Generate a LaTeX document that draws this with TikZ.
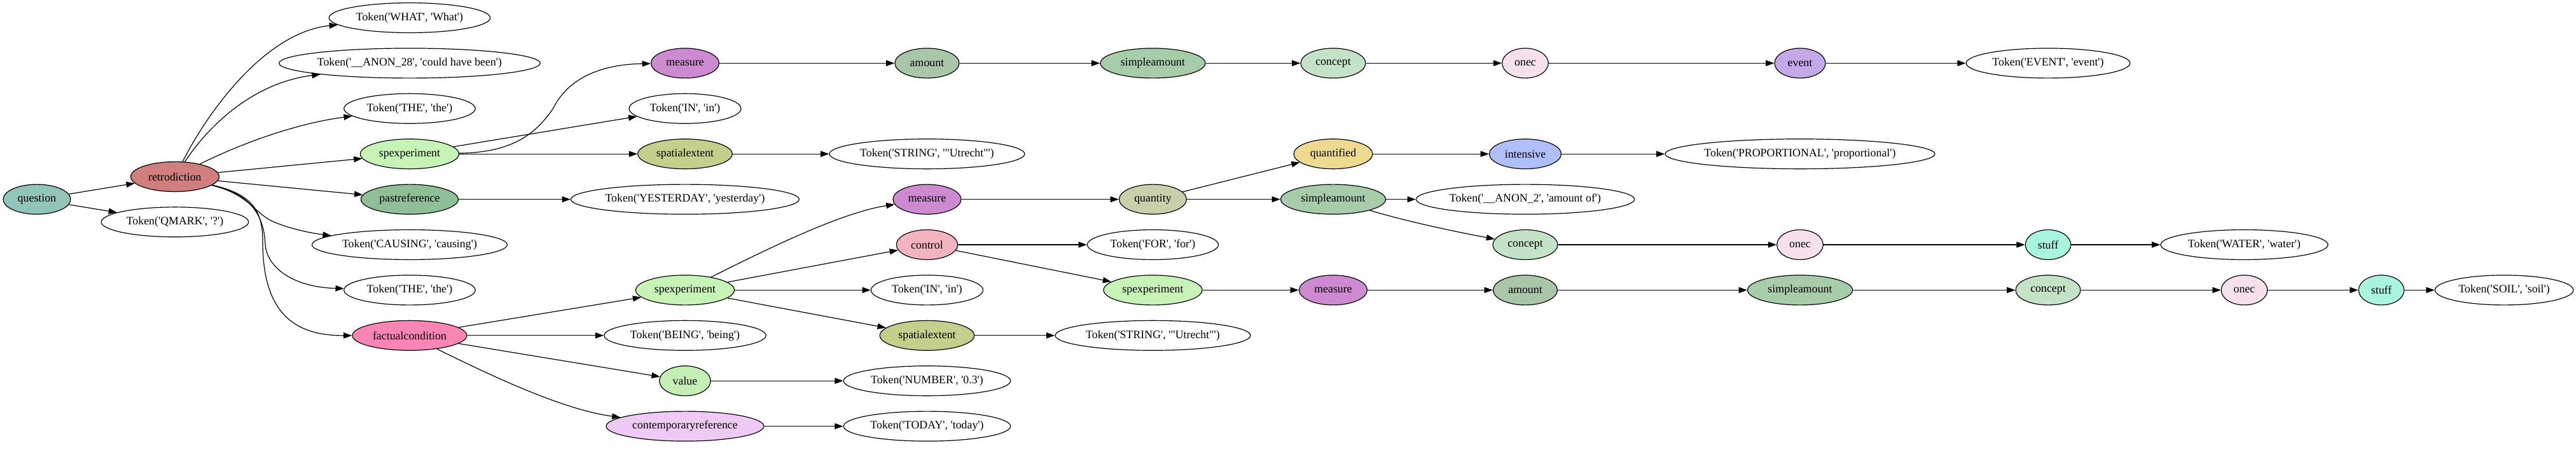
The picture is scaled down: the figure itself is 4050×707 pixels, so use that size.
\documentclass[tikz,border=0pt]{standalone}
\usepackage{fontspec}
\newfontfamily\gvfont{Liberation Serif}
\usetikzlibrary{arrows.meta,shapes.geometric}
\definecolor{cquestion}{HTML}{93C4B9}
\definecolor{cretro}{HTML}{D07E7E}
\definecolor{cspexp}{HTML}{C8F3B6}
\definecolor{cpast}{HTML}{8FBF96}
\definecolor{cfact}{HTML}{F985B4}
\definecolor{cmeasure}{HTML}{CE8AD0}
\definecolor{cspatial}{HTML}{C5CF8C}
\definecolor{cvalue}{HTML}{C4EEB4}
\definecolor{ccontemp}{HTML}{EECAF5}
\definecolor{camount}{HTML}{A9C6A9}
\definecolor{csimple}{HTML}{A7CCAA}
\definecolor{ccontrol}{HTML}{F2B4C0}
\definecolor{cquantity}{HTML}{C8D0AA}
\definecolor{cconcept}{HTML}{C4E2C6}
\definecolor{cquantified}{HTML}{EEDA8E}
\definecolor{cintensive}{HTML}{B0BEFA}
\definecolor{conec}{HTML}{F6E0EC}
\definecolor{cevent}{HTML}{C4A8E8}
\definecolor{cstuff}{HTML}{A8F4DE}
\begin{document}
\begin{tikzpicture}[x=0.7561pt,y=-0.7561pt,
  nd/.style={ellipse,draw=black,line width=0.9pt,inner xsep=-4pt,inner ysep=0pt,minimum height=35.5pt,font=\gvfont\fontsize{13.5}{16}\selectfont},
  tok/.style={nd,fill=white},
  edge/.style={draw=black,line width=0.9pt,-{Triangle[length=10pt,width=7pt]}}]
\useasboundingbox (0,0) rectangle (4050,707);
% rank 0
\node[nd,fill=cquestion,minimum width=80.1pt] (question) at (58,313.6) {question};
% rank 1
\node[nd,fill=cretro,minimum width=105.1pt] (retro) at (275,278) {retrodiction};
\node[tok,minimum width=175pt] (qmark) at (275,349.3) {Token('QMARK', '?')};
% rank 2
\node[tok,minimum width=191.7pt] (what) at (644,28) {Token('WHAT', 'What')};
\node[tok,minimum width=310.5pt] (anon28) at (644,99.4) {Token('\_\_ANON\_28', 'could have been')};
\node[tok,minimum width=156.1pt] (theA) at (644,170.8) {Token('THE', 'the')};
\node[nd,fill=cspexp,minimum width=117.2pt] (spexpA) at (644,242.2) {spexperiment};
\node[nd,fill=cpast,minimum width=115.7pt] (past) at (644,313.6) {pastreference};
\node[tok,minimum width=232.1pt] (causing) at (644,385) {Token('CAUSING', 'causing')};
\node[tok,minimum width=156.1pt] (theB) at (644,456.4) {Token('THE', 'the')};
\node[nd,fill=cfact,minimum width=136.1pt] (fact) at (644,527.8) {factualcondition};
% rank 3
\node[nd,fill=cmeasure,minimum width=80.9pt] (measA) at (1077,99.4) {measure};
\node[tok,minimum width=133.1pt] (inA) at (1077,170.8) {Token('IN', 'in')};
\node[nd,fill=cspatial,minimum width=112.3pt] (spatA) at (1077,242.2) {spatialextent};
\node[tok,minimum width=271.4pt] (yest) at (1077,313.6) {Token('YESTERDAY', 'yesterday')};
\node[nd,fill=cspexp,minimum width=117.2pt] (spexpB) at (1077,456.4) {spexperiment};
\node[tok,minimum width=192.4pt] (being) at (1077,527.8) {Token('BEING', 'being')};
\node[nd,fill=cvalue,minimum width=60.9pt] (value) at (1077,599.2) {value};
\node[nd,fill=ccontemp,minimum width=187.5pt] (contemp) at (1077,670.6) {contemporaryreference};
% rank 4
\node[nd,fill=camount,minimum width=76.4pt] (amtA) at (1457.5,99.4) {amount};
\node[tok,minimum width=232.1pt] (strA) at (1457.5,242.2) {Token('STRING', '"Utrecht"')};
\node[nd,fill=cmeasure,minimum width=80.9pt] (measB) at (1457.5,313.6) {measure};
\node[nd,fill=ccontrol,minimum width=72.9pt] (control) at (1457.5,385) {control};
\node[tok,minimum width=133.1pt] (inB) at (1457.5,456.4) {Token('IN', 'in')};
\node[nd,fill=cspatial,minimum width=112.3pt] (spatB) at (1457.5,527.8) {spatialextent};
\node[tok,minimum width=198.5pt] (number) at (1457.5,599.2) {Token('NUMBER', '0.3')};
\node[tok,minimum width=198.5pt] (today) at (1457.5,670.6) {Token('TODAY', 'today')};
% rank 5
\node[nd,fill=csimple,minimum width=124.8pt] (saA) at (1812.5,99.4) {simpleamount};
\node[nd,fill=cquantity,minimum width=80.1pt] (quantity) at (1812.5,313.6) {quantity};
\node[tok,minimum width=155.8pt] (for) at (1812.5,385) {Token('FOR', 'for')};
\node[nd,fill=cspexp,minimum width=117.2pt] (spexpC) at (1812.5,456.4) {spexperiment};
\node[tok,minimum width=232.1pt] (strB) at (1812.5,527.8) {Token('STRING', '"Utrecht"')};
% rank 6
\node[nd,fill=cconcept,minimum width=77.1pt] (concA) at (2096,99.4) {concept};
\node[nd,fill=cquantified,minimum width=93.8pt] (quantified) at (2096,242.2) {quantified};
\node[nd,fill=csimple,minimum width=124.8pt] (saB) at (2096,313.6) {simpleamount};
\node[nd,fill=cmeasure,minimum width=80.9pt] (measC) at (2096,456.4) {measure};
% rank 7
\node[nd,fill=conec,minimum width=54.9pt] (onecA) at (2398,99.4) {onec};
\node[nd,fill=cintensive,minimum width=85.4pt] (intensive) at (2398,242.2) {intensive};
\node[tok,minimum width=259.6pt] (anon2) at (2398,313.6) {Token('\_\_ANON\_2', 'amount of')};
\node[nd,fill=cconcept,minimum width=77.1pt] (concB) at (2398,385) {concept};
\node[nd,fill=camount,minimum width=76.4pt] (amtB) at (2398,456.4) {amount};
% rank 8
\node[nd,fill=cevent,minimum width=60.5pt] (event) at (2830,99.4) {event};
\node[tok,minimum width=320.6pt] (prop) at (2830,242.2) {Token('PROPORTIONAL', 'proportional')};
\node[nd,fill=conec,minimum width=54.9pt] (onecB) at (2830,385) {onec};
\node[nd,fill=csimple,minimum width=124.8pt] (saC) at (2830,456.4) {simpleamount};
% rank 9
\node[tok,minimum width=194.8pt] (tevent) at (3220,99.4) {Token('EVENT', 'event')};
\node[nd,fill=cstuff,minimum width=54.1pt] (stuffA) at (3220,385) {stuff};
\node[nd,fill=cconcept,minimum width=77.1pt] (concC) at (3220,456.4) {concept};
% rank 10
\node[tok,minimum width=198.9pt] (water) at (3528.5,385) {Token('WATER', 'water')};
\node[nd,fill=conec,minimum width=54.9pt] (onecC) at (3528.5,456.4) {onec};
% rank 11
\node[nd,fill=cstuff,minimum width=54.1pt] (stuffB) at (3744,456.4) {stuff};
% rank 12
\node[tok,minimum width=164.5pt] (soil) at (3937,456.4) {Token('SOIL', 'soil')};
% edges
\path[edge] (question) -- (retro);
\path[edge] (question) -- (qmark);
\path[edge] (retro) .. controls (330,170) and (420,50) .. (what);
\path[edge] (retro) .. controls (330,195) and (400,130) .. (anon28);
\path[edge] (retro) .. controls (370,230) and (460,195) .. (theA);
\path[edge] (retro) -- (spexpA);
\path[edge] (retro) -- (past);
\path[edge] (retro) .. controls (390,305) and (400,335) .. (428,348) .. controls (455,360) and (490,367) .. (causing);
\path[edge] (retro) .. controls (395,305) and (415,340) .. (417,384) .. controls (419,420) and (460,452) .. (theB);
\path[edge] (retro) .. controls (395,305) and (413,330) .. (413,380) .. controls (413,500) and (470,528) .. (fact);
\path[edge] (spexpA) .. controls (800,240) and (840,215) .. (870,170) .. controls (895,120) and (950,101) .. (measA);
\path[edge] (spexpA) -- (inA);
\path[edge] (spexpA) -- (spatA);
\path[edge] (past) -- (yest);
\path[edge] (fact) -- (spexpB);
\path[edge] (fact) -- (being);
\path[edge] (fact) -- (value);
\path[edge] (fact) .. controls (790,600) and (890,645) .. (contemp);
\path[edge] (measA) -- (amtA);
\path[edge] (spatA) -- (strA);
\path[edge] (spexpB) .. controls (1200,395) and (1320,335) .. (measB);
\path[edge] (spexpB) -- (control);
\path[edge] (spexpB) -- (inB);
\path[edge] (spexpB) -- (spatB);
\path[edge] (value) -- (number);
\path[edge] (contemp) -- (today);
\path[edge] (amtA) -- (saA);
\path[edge] (measB) -- (quantity);
\path[edge] (control) -- (for);
\path[edge] (control) -- (spexpC);
\path[edge] (spatB) -- (strB);
\path[edge] (saA) -- (concA);
\path[edge] (quantity) -- (quantified);
\path[edge] (quantity) -- (saB);
\path[edge] (spexpC) -- (measC);
\path[edge] (concA) -- (onecA);
\path[edge] (quantified) -- (intensive);
\path[edge] (saB) -- (anon2);
\path[edge] (saB) .. controls (2210,348) and (2290,365) .. (concB);
\path[edge] (measC) -- (amtB);
\path[edge] (onecA) -- (event);
\path[edge] (intensive) -- (prop);
\path[edge] (concB) -- (onecB);
\path[edge] (amtB) -- (saC);
\path[edge] (event) -- (tevent);
\path[edge] (onecB) -- (stuffA);
\path[edge] (saC) -- (concC);
\path[edge] (stuffA) -- (water);
\path[edge] (concC) -- (onecC);
\path[edge] (onecC) -- (stuffB);
\path[edge] (stuffB) -- (soil);
\end{tikzpicture}
\end{document}
